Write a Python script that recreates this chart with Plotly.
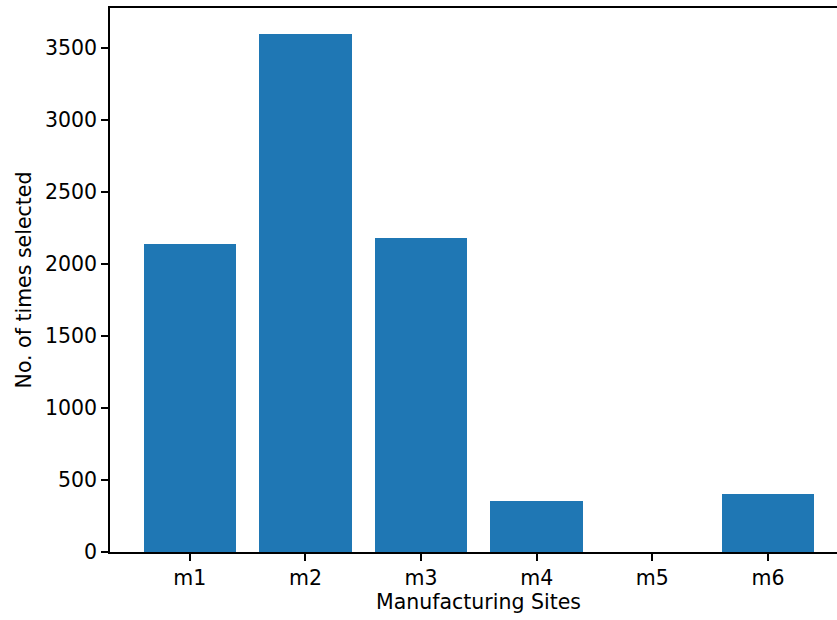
import plotly.graph_objects as go

# Selection counts per manufacturing site
sites = ["m1", "m2", "m3", "m4", "m5", "m6"]
times_selected = [2140, 3600, 2185, 352, 0, 400]

y_ticks = [0, 500, 1000, 1500, 2000, 2500, 3000, 3500]

fig = go.Figure(
    go.Bar(
        x=list(range(len(sites))),
        y=times_selected,
        width=0.8,
        marker=dict(color="#1f77b4", line=dict(width=0)),
    )
)

font = dict(family="DejaVu Sans", size=20.5, color="black")
axis_style = dict(
    showgrid=False,
    zeroline=False,
    showline=True,
    linecolor="black",
    linewidth=1.6,
    ticks="outside",
    ticklen=7,
    tickwidth=1.6,
    tickcolor="black",
    tickfont=font,
)

# full axes span (with 5% padding) runs past the right edge of the page
x_lo, x_hi = -0.69, 5.69

fig.update_layout(
    width=837,
    height=620,
    margin=dict(l=110, r=0, t=8, b=68),
    plot_bgcolor="white",
    paper_bgcolor="white",
    font=font,
    showlegend=False,
    bargap=0,
    xaxis=dict(
        range=[x_lo, (837 - 190) / 115.6],
        tickmode="array",
        tickvals=list(range(len(sites))),
        ticktext=sites,
        mirror=True,
        **axis_style,
    ),
    yaxis=dict(
        range=[0, 3780],
        tickmode="array",
        tickvals=y_ticks,
        mirror=False,
        title=dict(text="No. of times selected", font=font, standoff=8),
        **axis_style,
    ),
    annotations=[
        dict(
            text="Manufacturing Sites",
            x=(x_lo + x_hi) / 2,
            xref="x",
            y=0,
            yref="paper",
            xanchor="center",
            yanchor="middle",
            yshift=-50,
            showarrow=False,
            font=font,
        )
    ],
)

fig.write_html("out.html")
